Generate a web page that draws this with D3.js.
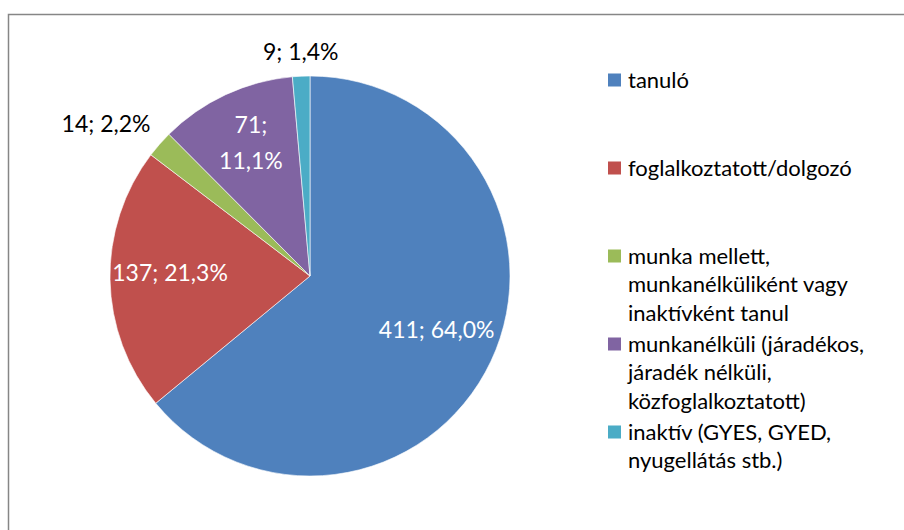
<!DOCTYPE html>
<html>
<head>
<meta charset="utf-8">
<script src="https://cdn.jsdelivr.net/npm/d3@7"></script>
<style>
  body { margin: 0; background: #fff; }
  text { font-family: Lato, "Open Sans", sans-serif; }
</style>
</head>
<body>
<script>
const svgWidth = 904;
const svgHeight = 530;

// data
const categories = [
    "tanuló",
    "foglalkoztatott/dolgozó",
    "munka mellett, munkanélküliként vagy inaktívként tanul",
    "munkanélküli (járadékos, járadék nélküli, közfoglalkoztatott)",
    "inaktív (GYES, GYED, nyugellátás stb.)"
];
const values = [411, 137, 14, 71, 9];
const legendLines = [
    ["tanuló"],
    ["foglalkoztatott/dolgozó"],
    ["munka mellett,", "munkanélküliként vagy", "inaktívként tanul"],
    ["munkanélküli (járadékos,", "járadék nélküli,", "közfoglalkoztatott)"],
    ["inaktív (GYES, GYED,", "nyugellátás stb.)"]
];
const colors = ["#4F81BD", "#C0504D", "#9BBB59", "#8064A2", "#4BACC6"];

const cx = 310;
const cy = 276;
const radius = 200;
const labelSize = 23;
const legendSize = 22;

const svg = d3.select("body").append("svg")
    .attr("width", svgWidth)
    .attr("height", svgHeight);

// chart frame (only top and left edges are visible)
svg.append("path")
    .attr("d", "M8.5,530 L8.5,14.5 L904,14.5")
    .attr("fill", "none")
    .attr("stroke", "#868686")
    .attr("stroke-width", 1.5);

const total = d3.sum(values);
const data = values.map((v, i) => ({value: v, name: categories[i], color: colors[i]}));

const pie = d3.pie().sort(null).value(d => d.value);
const arcs = pie(data);

const arc = d3.arc().innerRadius(0).outerRadius(radius);

const g = svg.append("g").attr("transform", `translate(${cx},${cy})`);

g.selectAll("path.slice")
    .data(arcs)
    .join("path")
    .attr("class", "slice")
    .attr("d", arc)
    .attr("fill", d => d.data.color)
    .attr("stroke", "#fff")
    .attr("stroke-width", 0.6);

function labelText(d) {
    const pct = (d.data.value / total * 100).toFixed(1).replace(".", ",");
    return d.data.value + "; " + pct + "%";
}

// labels inside big slices, outside small ones
const insideArc = d3.arc().innerRadius(radius * 0.7).outerRadius(radius * 0.7);
const outsideArc = d3.arc().innerRadius(radius + 12).outerRadius(radius + 12);

arcs.forEach(function (d) {
    const share = d.data.value / total;
    const text = labelText(d);
    if (share > 0.05) {
        const [x, y] = insideArc.centroid(d);
        const lines = share < 0.15 ? [d.data.value + ";", text.split("; ")[1]] : [text];
        const t = g.append("text")
            .attr("text-anchor", "middle")
            .attr("fill", "#fff")
            .attr("font-size", labelSize);
        lines.forEach(function (line, i) {
            t.append("tspan")
                .attr("x", x)
                .attr("y", y - 6 + (i - (lines.length - 1) / 2) * 36)
                .attr("dy", "0.35em")
                .text(line);
        });
    } else {
        const [x, y] = outsideArc.centroid(d);
        const mid = (d.startAngle + d.endAngle) / 2;
        const s = Math.sin(mid);
        const anchor = s < -0.3 ? "end" : (s > 0.3 ? "start" : "middle");
        g.append("text")
            .attr("x", x)
            .attr("y", y - 4)
            .attr("text-anchor", anchor)
            .attr("fill", "#000")
            .attr("font-size", labelSize)
            .text(text);
    }
});

// legend
const legend = svg.append("g").attr("transform", "translate(608,80)");
const rowStep = 88;
const lineStep = 28.5;

legendLines.forEach(function (lines, i) {
    const row = legend.append("g").attr("transform", `translate(0,${i * rowStep})`);
    row.append("rect")
        .attr("x", 0)
        .attr("y", -6.5)
        .attr("width", 13)
        .attr("height", 13)
        .attr("fill", colors[i]);
    lines.forEach(function (line, j) {
        row.append("text")
            .attr("x", 20)
            .attr("y", j * lineStep)
            .attr("dy", "0.35em")
            .attr("font-size", legendSize)
            .attr("fill", "#000")
            .text(line);
    });
});
</script>
</body>
</html>
